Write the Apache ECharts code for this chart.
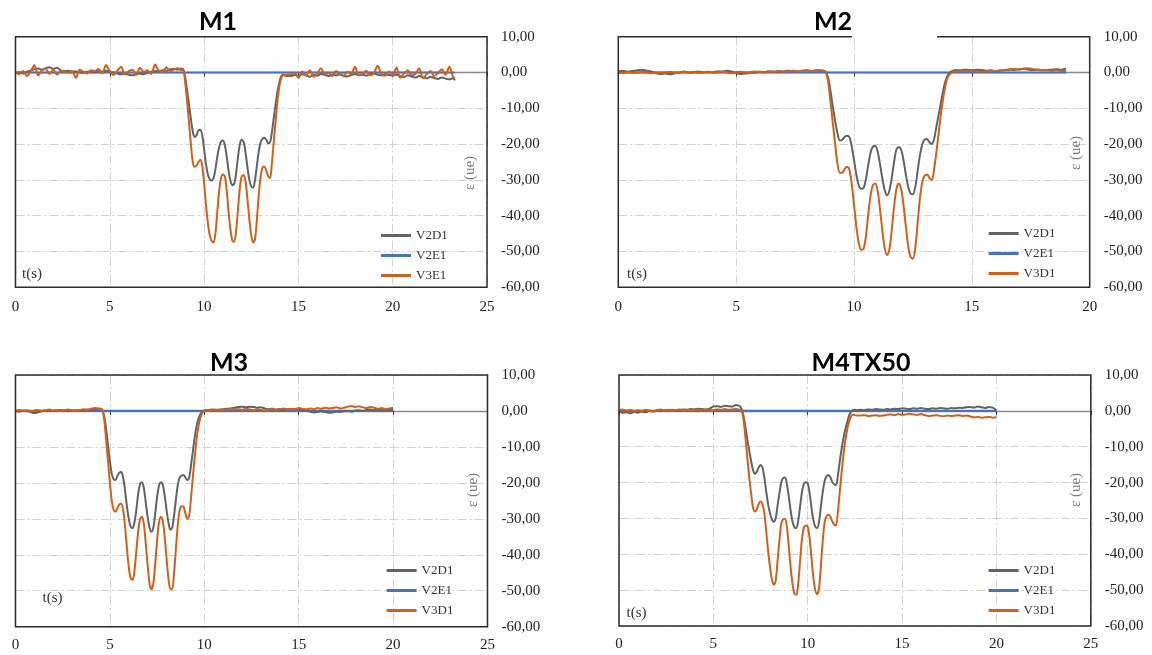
<!DOCTYPE html>
<html><head><meta charset="utf-8">
<script src="https://cdn.jsdelivr.net/npm/echarts@6/dist/echarts.min.js"></script>
<style>html,body{margin:0;padding:0;background:#fff}#c{width:1152px;height:655px}</style>
</head><body><div id="c"></div>
<script>
// ---------------- DATA ----------------
const seriesNames = ['V2D1', 'V2E1', 'V3E1', 'V3D1'];
const panelTitles = ['M1', 'M2', 'M3', 'M4TX50'];
const xMaxes = [25, 20, 25, 25];
const yTicks = [-60, 10, 10]; // min, max, step

// M1
const m1_t = [
0,0.2,0.4,0.6,0.8,1,1.2,1.4,1.6,1.8,2,2.2,2.4,2.6,2.8,3,3.2,3.4,3.6,3.8,4,4.2,4.4,4.6,4.8,5,5.2,5.4,5.6,5.8,6,6.2,6.4,6.6,6.8,7,7.2,7.4,7.6,7.8,8,8.2,8.4,8.6,8.8,
8.9,9,9.1,9.2,9.3,9.4,9.5,9.6,9.7,9.8,9.9,10,10.1,10.2,10.3,10.4,10.5,10.6,10.7,10.8,10.9,11,11.1,11.2,11.3,11.4,11.5,11.6,11.7,11.8,11.9,12,12.1,12.2,12.3,12.4,12.5,12.6,12.7,12.8,12.9,13,13.1,13.2,13.3,13.4,13.5,13.6,13.7,13.8,13.9,14,14.1,14.2,14.3,14.4,
14.6,14.8,15,15.2,15.4,15.6,15.8,16,16.2,16.4,16.6,16.8,17,17.2,17.4,17.6,17.8,18,18.2,18.4,18.6,18.8,19,19.2,19.4,19.6,19.8,20,20.2,20.4,20.6,20.8,21,21.2,21.4,21.6,21.8,22,22.2,22.4,22.6,22.8,23,23.2,23.3];
const m1_V2D1 = [
-0.2,0.1,-0.3,0.2,0.6,0.9,1.1,0.8,1.2,1.5,1.0,1.3,0.6,0.4,0.5,0.2,0.3,0.1,-0.1,0.2,0.3,0.1,0.4,0.2,0.5,0.3,0.0,-0.3,-0.5,-0.4,-0.6,-0.8,-0.5,-0.3,-0.5,0.0,0.2,0.4,0.3,0.6,0.5,0.9,1.0,0.8,1.1,
0.8,-1.5,-5,-9,-13,-16.5,-18,-17.5,-16.2,-16,-17.5,
-21.5,-25.5,-28.5,-29.8,-30.2,-29.5,-27,-23.5,-20.8,-19.3,
-19,-20.3,-23.5,-27.5,-30.3,-31.5,-31,-28,-23.5,-20,
-18.8,-19.5,-22.5,-26.5,-30,-31.8,-32.2,-30,-26,-22,
-19.5,-18.5,-18.2,-18.8,-19.8,-19.5,-16.5,-12.5,-8.5,-5,
-2.5,-1,-0.6,-0.8,-1,
-1.0,-0.7,-0.9,-0.5,-0.8,-1.2,-0.6,-0.9,-0.4,-0.7,-1.0,-0.6,-0.8,-0.5,-0.9,-1.1,-0.7,-0.4,-0.8,-0.6,-0.9,-0.5,-0.3,-0.6,-0.8,-0.5,-0.7,-0.9,-0.6,-1.0,-1.3,-0.8,-1.1,-1.4,-1.0,-1.3,-1.6,-1.2,-1.5,-1.8,-1.4,-1.7,-1.9,-1.6,-2.2];
const m1_V3E1 = [
0.2,-0.5,0.4,-1.0,0.3,2.0,-0.8,0.6,1.0,-0.4,0.8,-0.6,0.5,0.3,0.0,0.4,-1.5,0.8,0.2,-0.3,0.6,0.4,1.0,-0.2,2.1,0.3,-0.7,0.5,1.6,-0.5,0.4,0.8,-0.6,1.3,0.2,0.6,-0.4,2.2,0.5,0.1,1.5,0.4,0.8,1.2,0.6,
0.8,-3,-8,-14,-20,-25,-26.3,-26,-25,-24.4,-26,
-31,-37,-42,-45.5,-47,-47.5,-45,-39,-33,-29.5,
-28.5,-29,-33,-39,-44,-47,-47.3,-44,-38,-32,
-29,-28.6,-30.5,-35.5,-41,-45.5,-47.5,-46.5,-41,-34,
-29,-26.5,-26.3,-27.5,-29,-29.5,-25,-19,-13,-7.5,
-3.5,-1.5,-0.5,-1,-0.6,
-0.5,-0.2,-1.5,0.3,-0.8,0.6,-1.2,-0.3,1.2,-0.6,-0.2,-1.0,0.4,-0.5,-0.9,0.2,-0.4,1.6,-0.7,-0.3,0.5,-0.8,-0.2,1.9,-0.4,-0.9,0.3,-0.6,1.4,-1.5,-0.3,0.6,-0.8,-0.4,1.2,-1.6,-0.5,0.4,-1.0,-0.2,0.9,-0.6,1.6,-1.2,-1.6];
const m1_V2E1_t = [0, 23.3];
const m1_V2E1 = [0, 0];

// M2
const m2_t = [
0,0.2,0.4,0.6,0.8,1,1.2,1.4,1.6,1.8,2,2.2,2.4,2.6,2.8,3,3.2,3.4,3.6,3.8,4,4.2,4.4,4.6,4.8,5,5.2,5.4,5.6,5.8,6,6.2,6.4,6.6,6.8,7,7.2,7.4,7.6,7.8,8,8.2,8.4,8.6,
8.7,8.8,8.9,9,9.1,9.2,9.3,9.4,9.5,9.6,9.7,9.8,9.9,10,10.1,10.2,10.3,10.4,10.5,10.6,10.7,10.8,10.9,11,11.1,11.2,11.3,11.4,11.5,11.6,11.7,11.8,11.9,12,12.1,12.2,12.3,12.4,12.5,12.6,12.7,12.8,12.9,13,13.1,13.2,13.3,13.4,13.5,13.6,13.7,13.8,13.9,14,14.1,14.2,14.3,14.4,
14.6,14.8,15,15.2,15.4,15.6,15.8,16,16.2,16.4,16.6,16.8,17,17.2,17.4,17.6,17.8,18,18.2,18.4,18.6,18.8,19];
const m2_V2D1 = [
0.3,0.5,0.2,0.4,0.6,0.8,0.5,0.3,-0.2,-0.4,-0.3,-0.5,-0.2,0.0,0.2,-0.1,0.1,0.3,0.0,0.2,0.1,0.3,0.2,0.5,0.3,-0.2,-0.4,-0.3,-0.1,0.0,0.2,0.1,0.3,0.2,0.4,0.3,0.5,0.4,0.3,0.5,0.6,0.4,0.6,0.5,
0.5,0.2,-1.5,
-5,-9.5,-13.5,-17,-19,-18.8,-18,-17.7,-18,-20.5,
-24.5,-28.5,-31.5,-32.5,-32.3,-30,-26,-22.5,-20.7,-20.5,
-22,-25.5,-29.5,-32.8,-34.3,-33,-29.5,-25,-21.5,-20.8,
-21.5,-24.5,-28.5,-32,-33.8,-34,-32,-27.5,-23,-20,
-18.7,-18.6,-19.5,-20,-18.5,-15,-11.5,-8,-4.5,-2,
-0.5,0.2,0.5,0.7,0.6,
0.7,0.8,0.6,0.8,0.7,0.5,0.6,0.4,0.5,0.6,0.8,0.7,0.9,1.0,0.8,0.7,0.8,0.6,0.7,0.8,0.9,0.8,1.1];
const m2_V3D1 = [
0.0,-0.2,0.1,-0.1,0.0,0.2,0.0,-0.2,0.1,-0.1,0.0,0.2,-0.1,0.1,0.3,0.0,0.2,-0.1,0.1,0.2,0.0,0.1,0.3,0.0,-0.2,0.1,0.2,0.0,0.1,0.3,0.2,0.1,0.3,0.2,0.4,0.2,0.3,0.5,0.3,0.4,0.6,0.4,0.5,0.6,
0.5,0.2,-2.5,
-8,-14,-20,-25.5,-28,-28,-27,-26.3,-27,-31,
-37,-43,-47.5,-49.5,-49.3,-46,-40,-34.5,-31.5,-31,
-33,-38,-44,-49,-51,-49.5,-44,-37.5,-32.5,-31,
-32.5,-37,-43,-48.5,-51.5,-52,-49,-42,-35,-30.5,
-28.8,-28.5,-29.5,-30,-27,-22,-16.5,-11,-6.5,-3,
-1,-0.2,0.2,0.3,0.3,
0.4,0.5,0.3,0.4,0.2,0.3,0.5,0.4,0.6,0.7,0.9,1.0,0.8,1.1,1.2,0.9,0.8,0.7,0.6,0.5,0.6,0.4,0.4];
const m2_V2E1_t = [0, 19];
const m2_V2E1 = [0, 0];

// M3
const m3_t = [
0,0.2,0.4,0.6,0.8,1,1.2,1.4,1.6,1.8,2,2.2,2.4,2.6,2.8,3,3.2,3.4,3.6,3.8,4,4.2,4.4,
4.5,4.6,4.7,4.8,4.9,5,5.1,5.2,5.3,5.4,5.5,5.6,5.7,5.8,5.9,6,6.1,6.2,6.3,6.4,6.5,6.6,6.7,6.8,6.9,7,7.1,7.2,7.3,7.4,7.5,7.6,7.7,7.8,7.9,8,8.1,8.2,8.3,8.4,8.5,8.6,8.7,8.8,8.9,9,9.1,9.2,9.3,9.4,9.5,9.6,9.7,9.8,9.9,10,10.1,
10.2,10.4,10.6,10.8,11,11.2,11.4,11.6,11.8,12,12.2,12.4,12.6,12.8,13,13.2,13.4,13.6,13.8,14,14.2,14.4,14.6,14.8,15,15.2,15.4,15.6,15.8,16,16.2,16.4,16.6,16.8,17,17.2,17.4,17.6,17.8,18,18.2,18.4,18.6,18.8,19,19.2,19.4,19.6,19.8,20];
const m3_V2D1 = [
0.0,-0.2,0.1,0.0,-0.3,-0.6,-0.4,-0.1,0.1,0.2,0.0,0.1,0.3,0.1,0.0,0.2,0.1,0.3,0.2,0.4,0.3,0.5,0.6,
0.6,0.3,-1.5,-5,-9.5,
-14,-17.5,-19,-19.2,-18,-17.2,-17,-18.5,-22,-26.5,
-30,-32.2,-32.6,-31,-27.5,-23,-20.3,-19.8,-21.5,-25.5,
-29.5,-32.5,-33.6,-32.5,-28.5,-24,-20.8,-19.8,-20.5,-23.5,
-27.5,-31,-33,-32.5,-29,-24.5,-20.5,-18.5,-18,-17.8,
-18.5,-19.2,-18.5,-15,-11,-7,-4,-2,-0.8,-0.2,
0.1,0.3,
0.3,0.4,0.2,0.4,0.5,0.6,0.7,0.9,1.1,1.2,1.0,1.2,1.1,0.9,1.0,0.7,0.5,0.6,0.4,0.5,0.3,0.5,0.4,0.6,0.5,0.3,0.1,-0.2,-0.4,-0.3,-0.1,-0.3,-0.5,-0.4,-0.2,-0.3,-0.1,0.0,-0.2,0.1,0.2,0.0,0.3,0.4,0.2,0.5,0.3,0.1,0.4,0.6];
const m3_V3D1 = [
0.1,0.3,0.0,0.2,-0.1,0.1,0.3,0.0,0.2,0.4,0.1,0.3,0.0,0.2,0.4,0.2,0.1,0.3,0.5,0.3,0.6,0.8,0.7,
0.6,0.3,-2.5,-8,-14,
-20,-25,-27.5,-28,-27,-26,-25.8,-27.5,-32,-38,
-43.5,-46.5,-47,-44.5,-39,-33.5,-30,-29.4,-31.5,-37,
-43,-48,-49.6,-48,-42.5,-36,-31,-29.4,-30.5,-35,
-41,-46.5,-49.5,-49.5,-45,-38,-31.5,-27.5,-26.5,-26.6,
-28.5,-30,-29,-24,-18,-12.5,-7.5,-4,-1.8,-0.5,
0,0.2,
0.2,0.3,0.4,0.2,0.5,0.3,0.6,0.4,0.5,0.3,0.6,0.4,0.2,0.5,0.3,0.1,0.4,0.6,0.3,0.5,0.7,0.4,0.6,0.5,0.8,0.6,0.4,0.7,0.5,0.8,0.6,0.9,0.7,0.8,1.0,0.7,0.9,1.2,1.4,1.1,1.3,1.0,0.8,1.1,0.9,0.6,0.8,0.5,0.7,0.9];
const m3_V2E1_t = [0, 20];
const m3_V2E1 = [0, 0];

// M4TX50
const m4_t = [
0,0.2,0.4,0.6,0.8,1,1.2,1.4,1.6,1.8,2,2.2,2.4,2.6,2.8,3,3.2,3.4,3.6,3.8,4,4.2,4.4,4.6,4.8,5,5.2,5.4,5.6,5.8,6,6.2,
6.3,6.4,6.5,6.6,6.7,6.8,6.9,7,7.1,7.2,7.3,7.4,7.5,7.6,7.7,7.8,7.9,8,8.1,8.2,8.3,8.4,8.5,8.6,8.7,8.8,8.9,9,9.1,9.2,9.3,9.4,9.5,9.6,9.7,9.8,9.9,10,10.1,10.2,10.3,10.4,10.5,10.6,10.7,10.8,10.9,11,11.1,11.2,11.3,11.4,11.5,11.6,11.7,11.8,11.9,12,12.1,12.2,12.3,12.4,12.5,12.6,
12.8,13,13.2,13.4,13.6,13.8,14,14.2,14.4,14.6,14.8,15,15.2,15.4,15.6,15.8,16,16.2,16.4,16.6,16.8,17,17.2,17.4,17.6,17.8,18,18.2,18.4,18.6,18.8,19,19.2,19.4,19.6,19.8,20];
const m4_V2D1 = [
0.0,-0.6,-0.4,-0.7,-0.3,-0.5,-0.2,-0.4,0.0,-0.2,0.1,-0.1,0.2,0.0,0.3,0.1,0.2,0.4,0.3,0.5,0.4,0.6,0.5,0.4,0.6,1.2,1.3,1.1,1.4,1.3,1.2,1.6,
1.5,1.3,0.5,-1.5,-4.5,-8,-11,
-14,-16.5,-17.6,-17,-15.8,-15.1,-15.8,-18.5,-22.5,-26,
-28.5,-30.3,-30.9,-30,-26.5,-23,-20,-18.7,-18.6,-20.5,
-24,-28,-31,-32.5,-32.7,-30.5,-26.5,-22.5,-20.3,-19.9,
-20.2,-23,-27,-30.5,-32.3,-32.7,-31,-26.5,-22.5,-19.5,
-18.2,-17.9,-18.5,-19.8,-20.5,-20.7,-18,-14,-10.5,-7.5,
-5,-3,-1.2,-0.2,0.2,0.3,0.2,
0.3,0.2,0.4,0.3,0.5,0.4,0.3,0.5,0.4,0.6,0.5,0.7,0.6,0.5,0.7,0.6,0.8,0.6,0.5,0.7,0.6,0.8,0.7,0.6,0.8,0.7,0.9,0.8,1.0,1.1,0.9,1.2,1.0,0.8,1.1,0.9,0.2];
const m4_V3D1 = [
0.2,0.4,0.1,0.3,-0.1,0.2,0.0,0.3,0.1,-0.1,0.2,0.4,0.1,0.3,0.0,0.2,0.4,0.1,0.3,0.2,0.4,0.3,0.2,0.4,0.3,0.2,0.4,0.3,0.5,0.3,0.4,0.5,
0.4,0.3,0,-2.5,-7.5,-13,-18.5,
-23,-27,-28.1,-27.5,-26,-25.3,-26,-28.5,-33.5,-39,
-43.5,-47,-48.5,-47.5,-42,-36,-31.5,-30.2,-30.1,-32.5,
-38,-44,-48.5,-51,-51.3,-48,-41.5,-35.5,-32.5,-32,
-32.3,-35.5,-41,-46.5,-50,-51.1,-49.5,-43,-36,-31,
-29.3,-29,-29.5,-30.8,-31.7,-32,-28,-22.5,-17,-12,
-8,-5,-2.8,-1.5,-1,-1.2,-1.3,
-1.3,-1.2,-1.4,-1.3,-1.2,-1.4,-1.3,-1.1,-1.0,-1.2,-0.9,-1.1,-1.0,-0.8,-1.0,-1.1,-0.9,-1.2,-1.4,-1.3,-1.2,-1.4,-1.5,-1.3,-1.4,-1.3,-1.2,-1.4,-1.3,-1.5,-1.8,-1.7,-1.9,-1.8,-1.7,-1.9,-1.8];
const m4_V2E1_t = [0, 20];
const m4_V2E1 = [0, 0];

// ---------------- PANELS ----------------
const panels = [
  {t: m1_t, gray: m1_V2D1, orange: m1_V3E1, orangeName: 'V3E1', bt: m1_V2E1_t, blue: m1_V2E1},
  {t: m2_t, gray: m2_V2D1, orange: m2_V3D1, orangeName: 'V3D1', bt: m2_V2E1_t, blue: m2_V2E1},
  {t: m3_t, gray: m3_V2D1, orange: m3_V3D1, orangeName: 'V3D1', bt: m3_V2E1_t, blue: m3_V2E1},
  {t: m4_t, gray: m4_V2D1, orange: m4_V3D1, orangeName: 'V3D1', bt: m4_V2E1_t, blue: m4_V2E1}
];
panels.forEach((p, i) => {
  if (p.t.length !== p.gray.length || p.t.length !== p.orange.length)
    throw new Error('length mismatch panel ' + i + ': ' + p.t.length + ' ' + p.gray.length + ' ' + p.orange.length);
});

// ---------------- LAYOUT / STYLE ----------------
const layout = [
  {left: 15.5, top: 36.7, width: 471.5, height: 250.6, titleX: 218, titleY: 22, epsX: 470, epsY: 173, tsX: 32, tsY: 274, legLeft: 381, legTop: 229, xMargin: 12},
  {left: 618.3, top: 36.7, width: 471.4, height: 250.6, titleX: 833, titleY: 22, epsX: 1076, epsY: 153, tsX: 637, tsY: 274, legLeft: 988.6, legTop: 227, xMargin: 12},
  {left: 15.5, top: 375, width: 472, height: 251.7, titleX: 229, titleY: 363, epsX: 473.5, epsY: 490, tsX: 52.5, tsY: 598, legLeft: 386.6, legTop: 564, xMargin: 11},
  {left: 619, top: 375, width: 471.8, height: 251, titleX: 861, titleY: 363, epsX: 1076, epsY: 490, tsX: 636.5, tsY: 613, legLeft: 988.6, legTop: 564, xMargin: 11}
];
const SERIF = "'Liberation Serif', 'DejaVu Serif', serif";
const COL_GRAY = '#636363', COL_BLUE = '#4472c4', COL_ORANGE = '#cf611c';
const splitStyle = {color: '#d2d2d2', width: 1, type: [9, 3, 2, 3]};

const zip = (t, v) => t.map((x, k) => [x, v[k]]);

const grid = [], xAxis = [], yAxis = [], series = [], legend = [], graphic = [];
layout.forEach((L, i) => {
  const p = panels[i];
  grid.push({left: L.left, top: L.top, width: L.width, height: L.height, show: true, z: 10,
    borderColor: '#2b2b2b', borderWidth: 1.5, backgroundColor: 'transparent', containLabel: false});
  xAxis.push({type: 'value', gridIndex: i, min: 0, max: xMaxes[i], interval: 5, position: 'bottom',
    axisLine: {show: false, onZero: false}, axisTick: {show: false},
    axisLabel: {margin: L.xMargin, fontFamily: SERIF, fontSize: 15, color: '#222'},
    splitLine: {show: true, lineStyle: splitStyle}});
  xAxis.push({type: 'value', gridIndex: i, min: 0, max: xMaxes[i], interval: 5, position: 'bottom',
    axisLine: {show: true, onZero: true, lineStyle: {color: '#8a8a8a', width: 1.3}},
    axisTick: {show: true, length: 4, lineStyle: {color: '#333', width: 1}},
    axisLabel: {show: false}, splitLine: {show: false}});
  yAxis.push({type: 'value', gridIndex: i, min: yTicks[0], max: yTicks[1], interval: yTicks[2], position: 'right',
    axisLine: {show: false}, axisTick: {show: false},
    axisLabel: {align: 'left', margin: 14, fontFamily: SERIF, fontSize: 15, color: '#222',
      formatter: v => v.toFixed(2).replace('.', ',')},
    splitLine: {show: true, lineStyle: splitStyle}});
  const common = {type: 'line', xAxisIndex: 2 * i, yAxisIndex: i, showSymbol: false, symbol: 'none',
    animation: false, silent: true};
  series.push(Object.assign({}, common, {name: 'V2E1', data: zip(p.bt, p.blue), z: 2,
    lineStyle: {color: COL_BLUE, width: 2.2}, itemStyle: {color: COL_BLUE}}));
  series.push(Object.assign({}, common, {name: 'V2D1', data: zip(p.t, p.gray), z: 3, smooth: 0.3,
    lineStyle: {color: COL_GRAY, width: 2}, itemStyle: {color: COL_GRAY}}));
  series.push(Object.assign({}, common, {name: p.orangeName, data: zip(p.t, p.orange), z: 4, smooth: 0.3,
    lineStyle: {color: COL_ORANGE, width: 2}, itemStyle: {color: COL_ORANGE}}));
  legend.push({data: ['V2D1', 'V2E1', p.orangeName], orient: 'vertical', left: L.legLeft, top: L.legTop,
    itemWidth: 30, itemHeight: 3, itemGap: 7, icon: 'rect', padding: 0, selectedMode: false,
    textStyle: {fontFamily: SERIF, fontSize: 13, color: '#333'}});
  graphic.push({type: 'text', x: L.titleX, y: L.titleY, z: 100,
    style: {text: panelTitles[i], fontFamily: "Lato, 'Liberation Sans', sans-serif", fontWeight: 'bold', fontSize: 25,
      fill: '#000', align: 'center', verticalAlign: 'middle', textAlign: 'center', textVerticalAlign: 'middle'}});
  graphic.push({type: 'text', x: L.epsX, y: L.epsY, rotation: Math.PI / 2, z: 100,
    style: {text: 'ε (ue)', fontFamily: SERIF, fontSize: 15, fill: '#7a7a7a',
      align: 'center', verticalAlign: 'middle', textAlign: 'center', textVerticalAlign: 'middle'}});
  graphic.push({type: 'text', x: L.tsX, y: L.tsY, z: 100,
    style: {text: 't(s)', fontFamily: SERIF, fontSize: 15, fill: '#333',
      align: 'center', verticalAlign: 'middle', textAlign: 'center', textVerticalAlign: 'middle'}});
});
// white gap on the top border of panel M2 (as in the original figure)
graphic.push({type: 'rect', z: 100, shape: {x: 852, y: 34, width: 85, height: 5}, style: {fill: '#fff'}});

const chart = echarts.init(document.getElementById('c'), null, {renderer: 'canvas'});
chart.setOption({
  backgroundColor: '#fff',
  animation: false,
  grid, xAxis, yAxis, series, legend, graphic
});
</script>
</body></html>
